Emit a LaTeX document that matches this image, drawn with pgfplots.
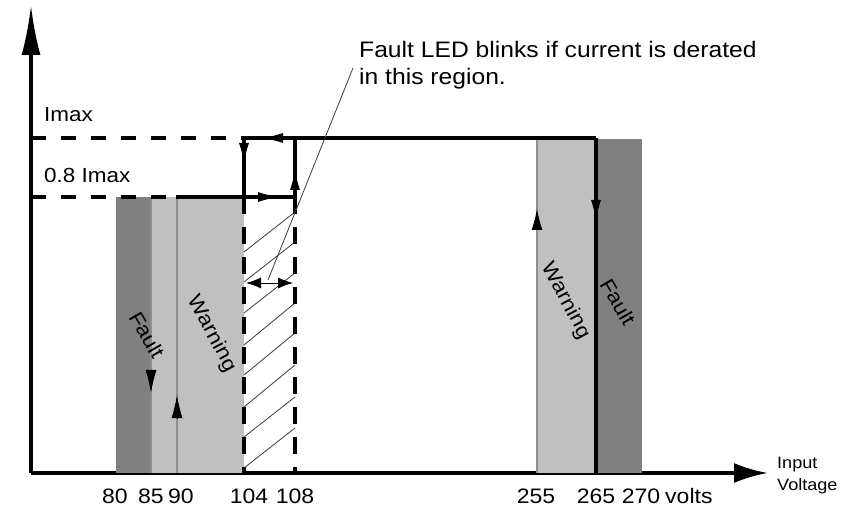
\documentclass[border=0pt]{standalone}
\usepackage{pgfplots}
\pgfplotsset{compat=1.18}
\usetikzlibrary{arrows.meta}
\usepackage{fontspec}
\setmainfont{Liberation Sans}[FakeStretch=1.1]

\definecolor{faultgray}{HTML}{808080}
\definecolor{warngray}{HTML}{C0C0C0}
\definecolor{edgegray}{HTML}{8F8F8F}
\definecolor{hatchgray}{HTML}{3A3A3A}

\begin{document}
\begin{tikzpicture}[
  lbl/.style={font=\fontsize{20.5}{24}\selectfont, inner sep=0pt},
  note/.style={font=\fontsize{22.5}{26}\selectfont, inner sep=0pt},
  small/.style={font=\fontsize{16.5}{20}\selectfont, inner sep=0pt},
  solidline/.style={black, line width=3.5bp},
  dashline/.style={black, line width=3.2bp, dash pattern=on 15bp off 15bp},
  thinline/.style={edgegray, line width=1.3bp},
  head/.style={-{Latex[length=20bp,width=10bp]}, line width=1bp, black},
]
\begin{axis}[
  scale only axis,
  width=737bp, height=468bp,
  xmin=31, xmax=768, ymin=37, ymax=505,
  axis lines=left,
  clip=false,
  x axis line style={line width=3.5bp, -{Latex[length=34bp,width=20bp]}},
  y axis line style={line width=3.5bp, -{Latex[length=50bp,width=19bp]}},
  ytick=\empty,
  xtick={115,151,181,249,295,536,596,641},
  xticklabels={80,85,90,104,108,255,265,270},
  major tick length=0pt,
  xticklabel style={anchor=base, yshift=-30bp, inner sep=0pt,
                    font=\fontsize{21}{25}\selectfont},
]
% page frame (856 x 510)
\path (axis cs:0,0) rectangle (axis cs:856,510);

% shaded bands (low side)
\addplot[fill=faultgray, draw=none] coordinates {(116,37) (151,37) (151,313) (116,313)} --cycle;
\addplot[fill=warngray, draw=none] coordinates {(151,37) (244,37) (244,313) (151,313)} --cycle;
% shaded bands (high side)
\addplot[fill=warngray, draw=none] coordinates {(537,37) (596,37) (596,371) (537,371)} --cycle;
\addplot[fill=faultgray, draw=none] coordinates {(596,37) (642,37) (642,371) (596,371)} --cycle;

% thin threshold lines
\addplot[thinline] coordinates {(151,37) (151,313)};
\addplot[thinline] coordinates {(177,37) (177,313)};
\addplot[thinline] coordinates {(537,37) (537,371)};

% hatching 104..108
\addplot[hatchgray, line width=0.8bp] coordinates {(244,258) (295,298)};
\addplot[hatchgray, line width=0.8bp] coordinates {(244,228) (295,268)};
\addplot[hatchgray, line width=0.8bp] coordinates {(244,197) (295,237)};
\addplot[hatchgray, line width=0.8bp] coordinates {(244,165) (295,207)};
\addplot[hatchgray, line width=0.8bp] coordinates {(244,135) (295,177)};
\addplot[hatchgray, line width=0.8bp] coordinates {(244,103) (295,145)};
\addplot[hatchgray, line width=0.8bp] coordinates {(244,73) (295,113)};
\addplot[hatchgray, line width=0.8bp] coordinates {(244,42) (295,82)};

% dashed guides
\addplot[dashline] coordinates {(31,372) (244,372)};
\addplot[dashline] coordinates {(31,313) (176,313)};
\addplot[dashline, line width=3.5bp, dash pattern=on 17bp off 13bp] coordinates {(244,313) (244,37)};
\addplot[dashline, line width=3.5bp, dash pattern=on 17bp off 13bp] coordinates {(295,313) (295,37)};

% hysteresis loop
\addplot[solidline] coordinates {(176,313) (295,313)};
\addplot[solidline] coordinates {(244,372) (244,313)};
\addplot[solidline] coordinates {(295,313) (295,372)};
\addplot[solidline] coordinates {(244,372) (596,372)};
\addplot[solidline] coordinates {(596,372) (596,37)};

% direction arrows
\addplot[head] coordinates {(283,372) (263,372)};
\addplot[head] coordinates {(257,313) (278,313)};
\addplot[head] coordinates {(244,368) (244,347)};
\addplot[head] coordinates {(295,320) (295,340)};
\addplot[head] coordinates {(596,310) (596,290)};
\addplot[head, -{Latex[length=21bp,width=11bp]}] coordinates {(537,280) (537,301)};
\addplot[head, -{Latex[length=23bp,width=11bp]}] coordinates {(151,140) (151,117)};
\addplot[head, -{Latex[length=23bp,width=11bp]}] coordinates {(177,92) (177,115)};

% callout
\addplot[hatchgray, line width=0.8bp] coordinates {(353,442) (268,230)};
\addplot[black, line width=0.9bp, {Latex[length=15bp,width=11bp]}-{Latex[length=15bp,width=11bp]}] coordinates {(246,227) (293,227)};

% labels
\node[lbl, anchor=west] at (axis cs:44,395) {Imax};
\node[lbl, anchor=west] at (axis cs:44,335) {0.8 Imax};
\node[note, anchor=base west] at (axis cs:359,452) {Fault LED blinks if current is derated};
\node[note, anchor=base west] at (axis cs:359,425) {in this region.};
\node[lbl, rotate=-60] at (axis cs:147,175) {Fault};
\node[lbl, rotate=-62] at (axis cs:212,176) {Warning};
\node[lbl, rotate=-62] at (axis cs:566,209) {Warning};
\node[lbl, rotate=-60] at (axis cs:618,208) {Fault};
\node[font=\fontsize{21}{25}\selectfont, inner sep=0pt, anchor=base west] at (axis cs:665,7) {volts};
\node[small, anchor=base west] at (axis cs:777,42) {Input};
\node[small, anchor=base west] at (axis cs:777,20) {Voltage};
\end{axis}
\end{tikzpicture}
\end{document}
